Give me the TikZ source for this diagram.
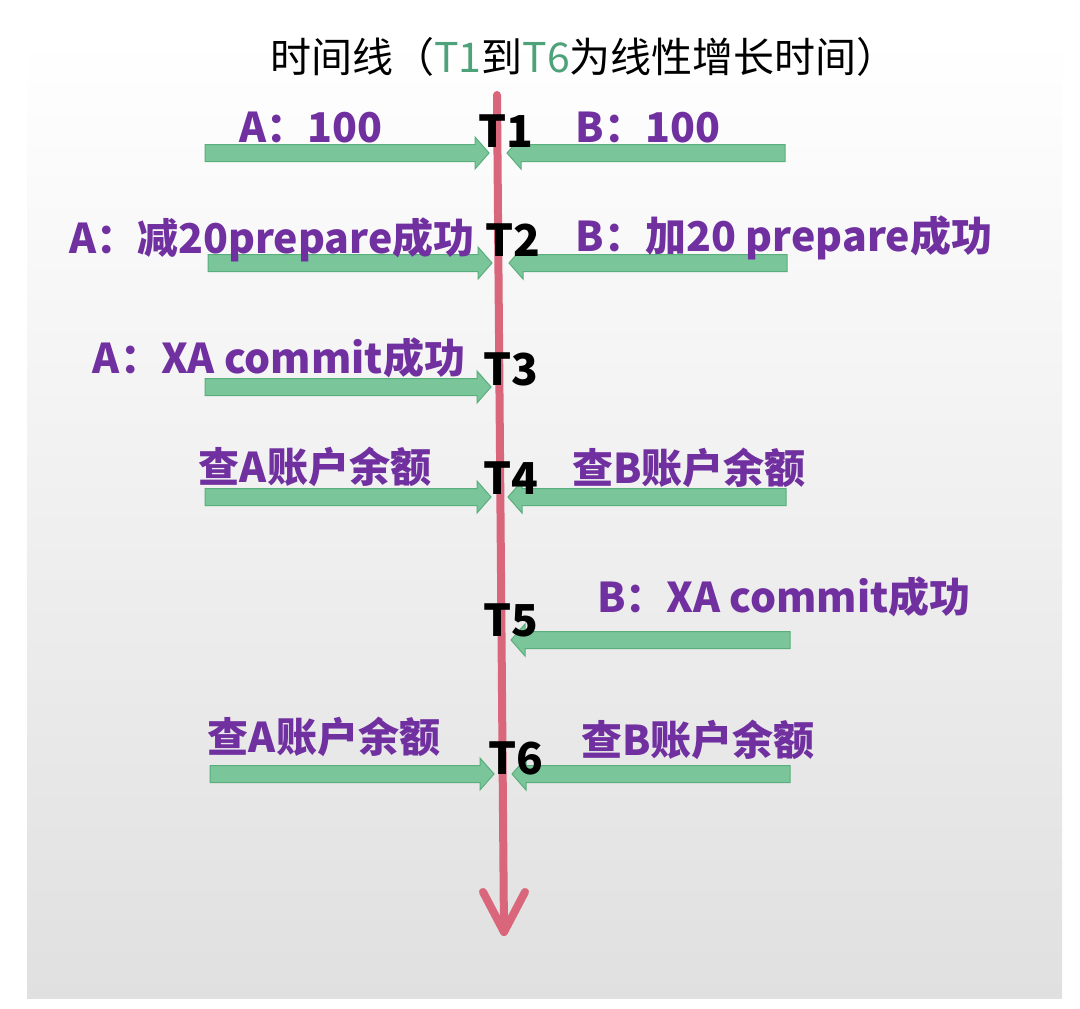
\documentclass[tikz,border=0pt]{standalone}
\usepackage{fontspec}
\setmainfont{Noto Sans CJK SC}
\newfontfamily\cjkfont{Noto Sans CJK SC}
\usetikzlibrary{calc}
\definecolor{lblpurple}{HTML}{7030A0}
\definecolor{arrfill}{HTML}{7AC69A}
\definecolor{arrdraw}{HTML}{5AAE7C}
\definecolor{tline}{HTML}{D9667A}
\definecolor{titlegreen}{HTML}{4EA27A}
\definecolor{bgbottom}{HTML}{E0E0E0}
\tikzset{
  lbl/.style={font=\cjkfont\bfseries\fontsize{41}{46}\selectfont, text=lblpurple, inner sep=0pt, anchor=center},
  tlbl/.style={font=\cjkfont\bfseries\fontsize{44}{50}\selectfont, text=black, inner sep=0pt, anchor=center},
  garrowstyle/.style={fill=arrfill, draw=arrdraw, line width=1pt, line join=miter},
  timeline/.style={draw=tline, line width=8pt, line cap=round, line join=round},
}
% #1 name of start coordinate, #2 name of tip coordinate, #3 direction (+1 right, -1 left)
\newcommand\garrow[3]{%
  \draw[garrowstyle] ($(#1)+(0,-8.5)$) -- ($(#2)+(-#3*14,-8.5)$) -- ($(#2)+(-#3*14,-16)$) -- (#2)
    -- ($(#2)+(-#3*14,16)$) -- ($(#2)+(-#3*14,8.5)$) -- ($(#1)+(0,8.5)$) -- cycle;}
\begin{document}
\begin{tikzpicture}[x=1pt,y=-1pt]
\useasboundingbox (0,0) rectangle (1080,1009);
\fill[white] (0,0) rectangle (1080,1009);
\shade[top color=white, bottom color=bgbottom] (27,37) rectangle (1062,998);
% title
\node[font=\cjkfont\fontsize{41}{46}\selectfont, inner sep=0pt] (title) at (584,57)
  {时间线（{\color{titlegreen}T1}到{\color{titlegreen}T6}为线性增长时间）};
% timeline
\coordinate (ttop) at (497,95);
\coordinate (ttip) at (504,932);
\draw[timeline] (ttop) -- (ttip);
\draw[timeline] ($(ttip)+(-21,-40)$) -- (ttip) -- ($(ttip)+(21,-40)$);
% T1
\coordinate (a1s) at (205,153); \coordinate (a1t) at (489,153);
\coordinate (b1s) at (785,153); \coordinate (b1t) at (507,153);
\garrow{a1s}{a1t}{1} \garrow{b1s}{b1t}{-1}
% T2
\coordinate (a2s) at (208,263); \coordinate (a2t) at (492,263);
\coordinate (b2s) at (787,263); \coordinate (b2t) at (509,263);
\garrow{a2s}{a2t}{1} \garrow{b2s}{b2t}{-1}
% T3
\coordinate (a3s) at (205,387); \coordinate (a3t) at (491,387);
\garrow{a3s}{a3t}{1}
% T4
\coordinate (a4s) at (205,497); \coordinate (a4t) at (491,497);
\coordinate (b4s) at (786,497); \coordinate (b4t) at (508,497);
\garrow{a4s}{a4t}{1} \garrow{b4s}{b4t}{-1}
% T5
\coordinate (b5s) at (790,640); \coordinate (b5t) at (511,640);
\garrow{b5s}{b5t}{-1}
% T6
\coordinate (a6s) at (210,774); \coordinate (a6t) at (494,774);
\coordinate (b6s) at (790,774); \coordinate (b6t) at (512,774);
\garrow{a6s}{a6t}{1} \garrow{b6s}{b6t}{-1}
% labels
\node[lbl] (la1) at (311,128) {A：100};
\node[lbl] (lb1) at (648,128) {B：100};
\node[lbl] (la2) at (272,240) {A：减20prepare成功};
\node[lbl] (lb2) at (784,238) {B：加20 prepare成功};
\node[lbl] (la3) at (279,358) {A：XA commit成功};
\node[lbl] (la4) at (315,467) {查A账户余额};
\node[lbl] (lb4) at (689,468) {查B账户余额};
\node[lbl] (lb5) at (784,597) {B：XA commit成功};
\node[lbl] (la6) at (324,737) {查A账户余额};
\node[lbl] (lb6) at (698,740) {查B账户余额};
% T labels
\node[tlbl] (t1) at (506,131) {T1};
\node[tlbl] (t2) at (513,240) {T2};
\node[tlbl] (t3) at (511,369) {T3};
\node[tlbl] (t4) at (511,478) {T4};
\node[tlbl] (t5) at (511,620) {T5};
\node[tlbl] (t6) at (516,758) {T6};
\end{tikzpicture}
\end{document}
